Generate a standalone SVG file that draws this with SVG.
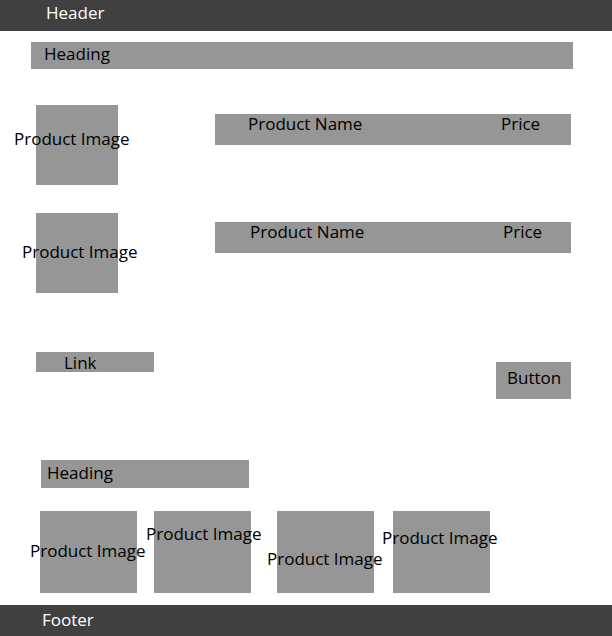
<svg xmlns="http://www.w3.org/2000/svg" width="612" height="636" viewBox="0 0 612 636">
<style>
.bar{fill:#404040}
.box{fill:#959695}
text{font-family:"Open Sans","Noto Sans","DejaVu Sans",sans-serif;font-size:17px;fill:#000}
.lt{fill:#ffffff}
</style>
<rect width="612" height="636" fill="#ffffff"/>
<g id="header"><rect class="bar" x="0" y="0" width="612" height="31"/><text class="lt" x="46" y="19">Header</text></g>
<g id="heading1"><rect class="box" x="31" y="42" width="542" height="27"/><text x="44" y="60">Heading</text></g>
<g id="image1"><rect class="box" x="36" y="105" width="82" height="80"/><text x="14" y="145">Product Image</text></g>
<g id="row1"><rect class="box" x="215" y="114" width="356" height="31"/><text x="248" y="130">Product Name</text><text x="501" y="130">Price</text></g>
<g id="image2"><rect class="box" x="36" y="213" width="82" height="80"/><text x="22" y="258">Product Image</text></g>
<g id="row2"><rect class="box" x="215" y="222" width="356" height="31"/><text x="250" y="238">Product Name</text><text x="503" y="238">Price</text></g>
<g id="link"><rect class="box" x="36" y="352" width="118" height="20"/><text x="64" y="369">Link</text></g>
<g id="button"><rect class="box" x="496" y="362" width="75" height="37"/><text x="507" y="384">Button</text></g>
<g id="heading2"><rect class="box" x="41" y="460" width="208" height="28"/><text x="47" y="479">Heading</text></g>
<g id="image3"><rect class="box" x="40" y="511" width="97" height="82"/><text x="30" y="557">Product Image</text></g>
<g id="image4"><rect class="box" x="154" y="511" width="97" height="82"/><text x="146" y="540">Product Image</text></g>
<g id="image5"><rect class="box" x="277" y="511" width="97" height="82"/><text x="267" y="565">Product Image</text></g>
<g id="image6"><rect class="box" x="393" y="511" width="97" height="82"/><text x="382" y="544">Product Image</text></g>
<g id="footer"><rect class="bar" x="0" y="605" width="612" height="31"/><text class="lt" x="42" y="626">Footer</text></g>
<g id="connectors"></g>
</svg>
